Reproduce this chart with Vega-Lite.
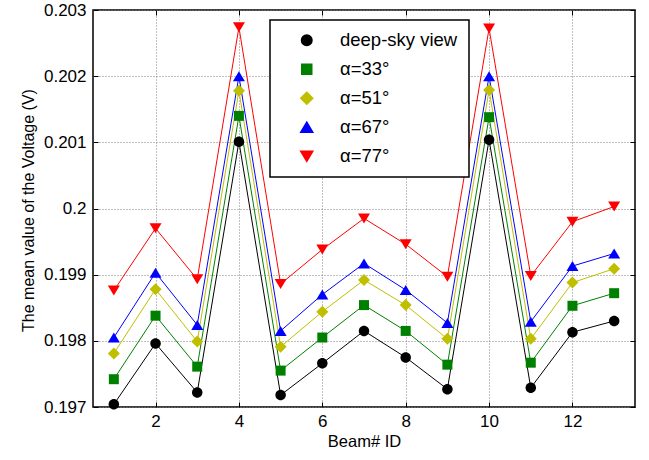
{
  "$schema": "https://vega.github.io/schema/vega-lite/v6.json",
  "width": 542,
  "height": 397,
  "autosize": {"type": "none"},
  "padding": {"left": 93, "top": 10, "right": 14, "bottom": 53},
  "background": "#ffffff",
  "config": {
    "font": "Liberation Sans",
    "view": {"stroke": "#000000", "strokeWidth": 1.5},
    "axis": {
      "labelFont": "Liberation Sans",
      "titleFont": "Liberation Sans",
      "labelFontSize": 17,
      "titleFontSize": 16.5,
      "titleFontWeight": "normal",
      "labelColor": "#000000",
      "titleColor": "#000000",
      "tickColor": "#000000",
      "tickSize": -5,
      "tickWidth": 1,
      "domain": false,
      "gridColor": "#808080",
      "gridDash": [1, 2],
      "gridWidth": 1,
      "gridOpacity": 1
    },
    "legend": {
      "orient": "none",
      "legendX": 177,
      "legendY": 10,
      "padding": 11,
      "fillColor": "#ffffff",
      "strokeColor": "#000000",
      "strokeWidth": 1.5,
      "cornerRadius": 0,
      "symbolSize": 100,
      "symbolOffset": 16.5,
      "labelOffset": 24,
      "labelFont": "Liberation Sans",
      "labelFontSize": 18.5,
      "labelColor": "#000000",
      "labelLimit": 300,
      "rowPadding": 10
    }
  },
  "data": {
    "values": [
      {"beam": 1, "series": "deep-sky view", "v": 0.19704},
      {"beam": 2, "series": "deep-sky view", "v": 0.19796},
      {"beam": 3, "series": "deep-sky view", "v": 0.19722},
      {"beam": 4, "series": "deep-sky view", "v": 0.20101},
      {"beam": 5, "series": "deep-sky view", "v": 0.19718},
      {"beam": 6, "series": "deep-sky view", "v": 0.19766},
      {"beam": 7, "series": "deep-sky view", "v": 0.19815},
      {"beam": 8, "series": "deep-sky view", "v": 0.19775},
      {"beam": 9, "series": "deep-sky view", "v": 0.19727},
      {"beam": 10, "series": "deep-sky view", "v": 0.20104},
      {"beam": 11, "series": "deep-sky view", "v": 0.19729},
      {"beam": 12, "series": "deep-sky view", "v": 0.19813},
      {"beam": 13, "series": "deep-sky view", "v": 0.19830},
      {"beam": 1, "series": "α=33°", "v": 0.19742},
      {"beam": 2, "series": "α=33°", "v": 0.19838},
      {"beam": 3, "series": "α=33°", "v": 0.19761},
      {"beam": 4, "series": "α=33°", "v": 0.20140},
      {"beam": 5, "series": "α=33°", "v": 0.19755},
      {"beam": 6, "series": "α=33°", "v": 0.19805},
      {"beam": 7, "series": "α=33°", "v": 0.19854},
      {"beam": 8, "series": "α=33°", "v": 0.19815},
      {"beam": 9, "series": "α=33°", "v": 0.19764},
      {"beam": 10, "series": "α=33°", "v": 0.20138},
      {"beam": 11, "series": "α=33°", "v": 0.19767},
      {"beam": 12, "series": "α=33°", "v": 0.19853},
      {"beam": 13, "series": "α=33°", "v": 0.19872},
      {"beam": 1, "series": "α=51°", "v": 0.19781},
      {"beam": 2, "series": "α=51°", "v": 0.19878},
      {"beam": 3, "series": "α=51°", "v": 0.19799},
      {"beam": 4, "series": "α=51°", "v": 0.20178},
      {"beam": 5, "series": "α=51°", "v": 0.19791},
      {"beam": 6, "series": "α=51°", "v": 0.19844},
      {"beam": 7, "series": "α=51°", "v": 0.19892},
      {"beam": 8, "series": "α=51°", "v": 0.19854},
      {"beam": 9, "series": "α=51°", "v": 0.19803},
      {"beam": 10, "series": "α=51°", "v": 0.20179},
      {"beam": 11, "series": "α=51°", "v": 0.19803},
      {"beam": 12, "series": "α=51°", "v": 0.19888},
      {"beam": 13, "series": "α=51°", "v": 0.19909},
      {"beam": 1, "series": "α=67°", "v": 0.19805},
      {"beam": 2, "series": "α=67°", "v": 0.19903},
      {"beam": 3, "series": "α=67°", "v": 0.19824},
      {"beam": 4, "series": "α=67°", "v": 0.20200},
      {"beam": 5, "series": "α=67°", "v": 0.19815},
      {"beam": 6, "series": "α=67°", "v": 0.19870},
      {"beam": 7, "series": "α=67°", "v": 0.19917},
      {"beam": 8, "series": "α=67°", "v": 0.19877},
      {"beam": 9, "series": "α=67°", "v": 0.19827},
      {"beam": 10, "series": "α=67°", "v": 0.20200},
      {"beam": 11, "series": "α=67°", "v": 0.19829},
      {"beam": 12, "series": "α=67°", "v": 0.19913},
      {"beam": 13, "series": "α=67°", "v": 0.19932},
      {"beam": 1, "series": "α=77°", "v": 0.19876},
      {"beam": 2, "series": "α=77°", "v": 0.19970},
      {"beam": 3, "series": "α=77°", "v": 0.19893},
      {"beam": 4, "series": "α=77°", "v": 0.20274},
      {"beam": 5, "series": "α=77°", "v": 0.19886},
      {"beam": 6, "series": "α=77°", "v": 0.19938},
      {"beam": 7, "series": "α=77°", "v": 0.19985},
      {"beam": 8, "series": "α=77°", "v": 0.19946},
      {"beam": 9, "series": "α=77°", "v": 0.19897},
      {"beam": 10, "series": "α=77°", "v": 0.20272},
      {"beam": 11, "series": "α=77°", "v": 0.19898},
      {"beam": 12, "series": "α=77°", "v": 0.19980},
      {"beam": 13, "series": "α=77°", "v": 0.20003}
    ]
  },
  "layer": [
    {
      "mark": {"type": "line", "strokeWidth": 1, "clip": false},
      "encoding": {
        "x": {
          "field": "beam", "type": "quantitative",
          "scale": {"domain": [0.5, 13.5], "nice": false, "zero": false},
          "axis": {"orient": "top", "values": [2, 4, 6, 8, 10, 12], "labels": false, "title": null, "grid": false}
        },
        "y": {
          "field": "v", "type": "quantitative",
          "scale": {"domain": [0.197, 0.203], "nice": false, "zero": false},
          "axis": {"orient": "right", "values": [0.197, 0.198, 0.199, 0.2, 0.201, 0.202, 0.203], "labels": false, "title": null, "grid": false}
        },
        "color": {
          "field": "series", "type": "nominal",
          "scale": {"domain": ["deep-sky view", "α=33°", "α=51°", "α=67°", "α=77°"], "range": ["#000000", "#008000", "#bfbf00", "#0000ff", "#ff0000"]}
        }
      }
    },
    {
      "mark": {"type": "point", "filled": true, "opacity": 1, "size": 100, "clip": false},
      "encoding": {
        "x": {
          "field": "beam", "type": "quantitative",
          "axis": {"orient": "bottom", "values": [2, 4, 6, 8, 10, 12], "title": "Beam# ID", "grid": true, "labelPadding": 11, "titlePadding": 4}
        },
        "y": {
          "field": "v", "type": "quantitative",
          "axis": {"orient": "left", "values": [0.197, 0.198, 0.199, 0.2, 0.201, 0.202, 0.203], "format": ".3~f", "title": "The mean value of the Voltage (V)", "titleFontSize": 16, "titleY": 200, "grid": true, "labelPadding": 12, "titlePadding": 7}
        },
        "color": {"field": "series", "type": "nominal", "legend": {"title": null}},
        "shape": {
          "field": "series", "type": "nominal",
          "scale": {
            "domain": ["deep-sky view", "α=33°", "α=51°", "α=67°", "α=77°"],
            "range": [
              "M1.05,0A1.05,1.05,0,1,1,-1.05,0A1.05,1.05,0,1,1,1.05,0Z",
              "M-1,-1H1V1H-1Z",
              "M0,-1.2L1.2,0L0,1.2L-1.2,0Z",
              "M0,-1L1.2,1L-1.2,1Z",
              "M0,1L1.2,-1L-1.2,-1Z"
            ]
          },
          "legend": {"title": null}
        }
      }
    }
  ],
  "resolve": {"axis": {"x": "independent", "y": "independent"}}
}
